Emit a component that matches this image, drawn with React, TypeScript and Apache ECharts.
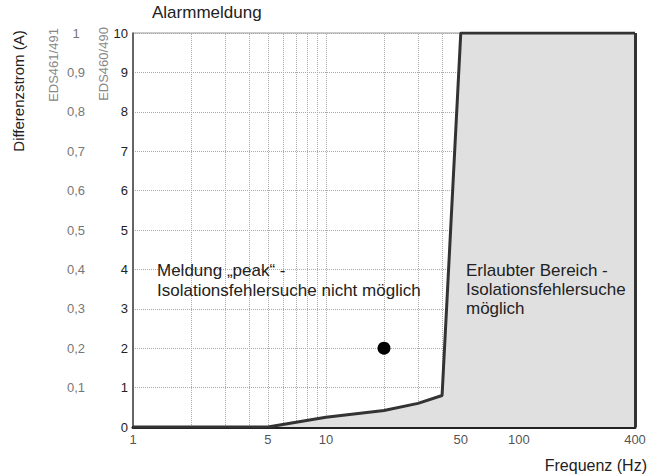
import React, { useEffect, useRef } from "react";
import * as echarts from "echarts";

// Boundary curve: frequency (Hz) vs. alarm current (A, EDS460/490 scale)
const freqs = [1, 5, 10, 20, 30, 40, 50, 400];
const limitCurrent = [0, 0, 0.25, 0.42, 0.6, 0.8, 10, 10];
// Measurement point
const pointFreq = [20];
const pointCurrent = [2];
// Tick labels on the frequency axis
const xTickLabels = [1, 5, 10, 50, 100, 400];
// Vertical grid lines (log decades)
const gridFreqs = [2, 3, 4, 5, 6, 7, 8, 9, 10, 20, 30, 40, 50, 60, 70, 80, 90, 100, 200, 300];

const FONT = "'Liberation Sans', Arial, sans-serif";

export default function App() {
  const ref = useRef<HTMLDivElement>(null);
  useEffect(() => {
    if (!ref.current) return;
    const chart = echarts.init(ref.current, null, { renderer: "svg" });
    const option: any = {
      animation: false,
      backgroundColor: "#ffffff",
      textStyle: { fontFamily: FONT },
      grid: {
        left: 133,
        right: 18,
        top: 33,
        bottom: 48,
        show: true,
        borderColor: "#999",
        borderWidth: 1,
        backgroundColor: "#fff",
      },
      xAxis: {
        type: "log",
        logBase: 10,
        min: 1,
        max: 400,
        axisLine: { show: true, lineStyle: { color: "#222", width: 3 } },
        axisTick: { show: false },
        axisLabel: { show: false },
        splitLine: { show: false },
        minorSplitLine: { show: false },
      },
      yAxis: [
        {
          type: "value",
          min: 0,
          max: 10,
          interval: 1,
          axisLine: { show: true, lineStyle: { color: "#444", width: 1.5 } },
          axisTick: { show: false },
          axisLabel: { color: "#222", fontSize: 13, margin: 5, fontFamily: FONT },
          splitLine: { show: true, lineStyle: { type: "dotted", color: "#aaa", width: 1 } },
        },
        {
          type: "value",
          position: "left",
          offset: 49,
          min: 0,
          max: 1,
          interval: 0.1,
          axisLine: { show: false },
          axisTick: { show: false },
          splitLine: { show: false },
          axisLabel: {
            color: "#777",
            fontSize: 13,
            margin: 8,
            align: "center",
            fontFamily: FONT,
            formatter: (v: number) => (v === 0 ? "" : String(Math.round(v * 10) / 10).replace(".", ",")),
          },
        },
      ],
      series: [
        {
          type: "line",
          data: [],
          z: 1,
          silent: true,
          markLine: {
            z: 1,
            silent: true,
            symbol: ["none", "none"],
            label: { show: false },
            lineStyle: { type: "dotted", color: "#aaa", width: 1 },
            data: gridFreqs.map((f) => ({ xAxis: f })),
          },
        },
        {
          type: "line",
          z: 3,
          data: freqs.map((f, i) => [f, limitCurrent[i]]),
          symbol: "none",
          lineStyle: { color: "#333", width: 3 },
          areaStyle: { color: "#e0e0e0", opacity: 1 },
          markLine: {
            z: 4,
            silent: true,
            symbol: ["none", "none"],
            label: { show: false },
            lineStyle: { type: "solid", color: "#333", width: 3 },
            data: [{ xAxis: 400 }],
          },
        },
        {
          type: "scatter",
          z: 5,
          data: pointFreq.map((f, i) => [f, pointCurrent[i]]),
          symbolSize: 13,
          itemStyle: { color: "#000", opacity: 1 },
        },
        {
          type: "scatter",
          z: 5,
          clip: false,
          silent: true,
          data: xTickLabels.map((v) => [v, 0]),
          symbolSize: 0,
          itemStyle: { color: "transparent" },
          label: {
            show: true,
            position: "bottom",
            distance: 6,
            color: "#222",
            fontSize: 13,
            fontFamily: FONT,
            formatter: (p: any) => String(p.value[0]),
          },
        },
      ],
      graphic: [
        {
          type: "text",
          left: 152,
          top: 4,
          style: { text: "Alarmmeldung", fontSize: 17, fill: "#222", fontFamily: FONT },
        },
        {
          type: "text",
          x: 18,
          y: 91,
          rotation: Math.PI / 2,
          style: {
            text: "Differenzstrom (A)",
            fontSize: 15,
            fill: "#222",
            fontFamily: FONT,
            textAlign: "center",
            textVerticalAlign: "middle",
          },
        },
        {
          type: "text",
          x: 53,
          y: 65,
          rotation: Math.PI / 2,
          style: {
            text: "EDS461/491",
            fontSize: 13,
            fill: "#888",
            fontFamily: FONT,
            textAlign: "center",
            textVerticalAlign: "middle",
          },
        },
        {
          type: "text",
          x: 103,
          y: 64,
          rotation: Math.PI / 2,
          style: {
            text: "EDS460/490",
            fontSize: 13,
            fill: "#888",
            fontFamily: FONT,
            textAlign: "center",
            textVerticalAlign: "middle",
          },
        },
        {
          type: "text",
          right: 6,
          top: 457,
          style: { text: "Frequenz (Hz)", fontSize: 16, fill: "#222", fontFamily: FONT },
        },
        {
          type: "text",
          left: 157,
          top: 260,
          z: 10,
          style: {
            text: "Meldung \u201Epeak\u201C -\nIsolationsfehlersuche nicht möglich",
            fontSize: 17,
            lineHeight: 20,
            fill: "#222",
            fontFamily: FONT,
          },
        },
        {
          type: "text",
          left: 466,
          top: 261,
          z: 10,
          style: {
            text: "Erlaubter Bereich -\nIsolationsfehlersuche\nmöglich",
            fontSize: 17,
            lineHeight: 19,
            fill: "#222",
            fontFamily: FONT,
          },
        },
      ],
    };
    chart.setOption(option);
    return () => chart.dispose();
  }, []);
  return <div ref={ref} style={{ width: 653, height: 475, position: "absolute", left: 0, top: 0 }} />;
}
